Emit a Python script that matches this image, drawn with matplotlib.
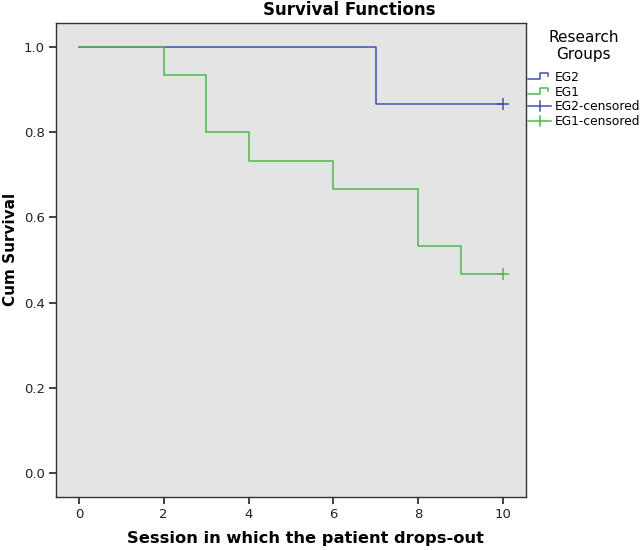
import matplotlib
matplotlib.use("Agg")
import matplotlib.pyplot as plt
from matplotlib.lines import Line2D
from matplotlib.legend_handler import HandlerBase

# Data
eg2_times = [0, 7, 10]
eg2_surv = [1.0, 0.8667, 0.8667]
eg1_times = [0, 2, 3, 4, 6, 8, 9, 10]
eg1_surv = [1.0, 0.9333, 0.8, 0.7333, 0.6667, 0.5333, 0.4667, 0.4667]
eg2_censored = ([10], [0.8667])
eg1_censored = ([10], [0.4667])
x_ticks = [0, 2, 4, 6, 8, 10]
y_ticks = [0.0, 0.2, 0.4, 0.6, 0.8, 1.0]

blue = "#3F51B5"
green = "#4DB84D"

fig = plt.figure(figsize=(6.41, 5.5), dpi=100)
ax = fig.add_axes([56/641, 53/550, 470/641, 474/550])
ax.set_facecolor("#E4E4E4")

ax.step(eg2_times, eg2_surv, where="post", color=blue, lw=1.1, zorder=3)
ax.step(eg1_times, eg1_surv, where="post", color=green, lw=1.1, zorder=3)
ax.plot(*eg2_censored, marker="+", ms=9, mew=1.1, color=blue, ls="none", zorder=4)
ax.plot(*eg1_censored, marker="+", ms=9, mew=1.1, color=green, ls="none", zorder=4)

ax.set_xlim(-0.54, 10.54)
ax.set_ylim(-0.056, 1.056)
ax.set_xticks(x_ticks)
ax.set_xticklabels([str(t) for t in x_ticks])
ax.set_yticks(y_ticks)
ax.set_yticklabels([f"{t:.1f}" for t in y_ticks])
ax.tick_params(direction="out", length=5, width=1.2, labelsize=9.5, pad=3,
               color="#222222", labelcolor="#222222")
for s in ax.spines.values():
    s.set_color("#333333")
    s.set_linewidth(1.0)

fig.text(305/641, 1 - 539/550, "Session in which the patient drops-out", fontsize=11.7,
         fontweight="bold", ha="center", va="center")
fig.text(11/641, 1 - 249/550, "Cum Survival", fontsize=11, fontweight="bold",
         ha="center", va="center", rotation=90)
fig.text(349/641, 1 - 10/550, "Survival Functions", fontsize=12, fontweight="bold",
         ha="center", va="center")


class StepHandler(HandlerBase):
    def create_artists(self, legend, orig_handle, xdescent, ydescent, width, height, fontsize, trans):
        w, h = width, height
        xs = [0, w * 0.5, w * 0.5, w * 0.88, w * 0.88]
        ys = [h * 0.15, h * 0.15, h * 0.85, h * 0.85, h * 0.55]
        l = Line2D(xs, ys, color=orig_handle.get_color(), lw=1.1, transform=trans)
        return [l]


class CensHandler(HandlerBase):
    def create_artists(self, legend, orig_handle, xdescent, ydescent, width, height, fontsize, trans):
        w, h = width, height
        l1 = Line2D([0, w], [h / 2, h / 2], color=orig_handle.get_color(), lw=1.1, transform=trans)
        l2 = Line2D([w / 2, w / 2], [-h * 0.1, h * 1.1], color=orig_handle.get_color(), lw=1.1,
                    transform=trans)
        return [l1, l2]


class C2(Line2D):
    pass


h_eg2 = Line2D([], [], color=blue)
h_eg1 = Line2D([], [], color=green)
h_c2 = C2([], [], color=blue)
h_c1 = C2([], [], color=green)

leg = fig.legend([h_eg2, h_eg1, h_c2, h_c1], ["EG2", "EG1", "EG2-censored", "EG1-censored"],
                 title="Research\nGroups", loc="upper left", bbox_to_anchor=(528/641, 1 - 30/550),
                 frameon=False, fontsize=8.8, title_fontsize=11, handlelength=1.9,
                 handletextpad=0.25, labelspacing=0.15, borderaxespad=0, borderpad=0,
                 handler_map={Line2D: StepHandler(), C2: CensHandler()})
leg._legend_box.align = "center"
leg._legend_box.sep = 6
leg.get_title().set_multialignment("center")

fig.savefig("out.png", dpi=100, facecolor="white")
